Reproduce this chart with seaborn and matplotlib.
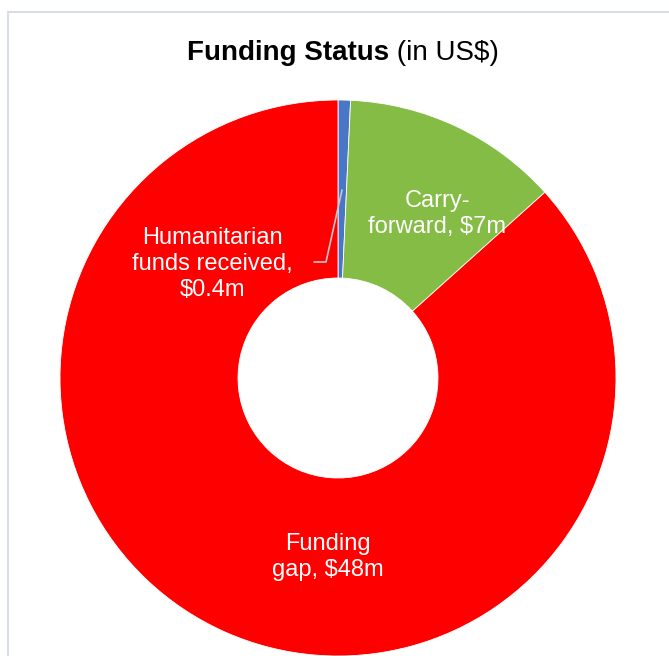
import matplotlib
matplotlib.use("Agg")
import matplotlib.pyplot as plt
import seaborn as sns
from matplotlib.patches import Rectangle

sns.set_theme(style="white")
plt.rcParams['font.family'] = ['Liberation Sans', 'DejaVu Sans']

# Data
categories = ["Humanitarian funds received", "Carry-forward", "Funding gap"]
values = [0.4, 7, 48]
value_labels = ["$0.4m", "$7m", "$48m"]
colors = ["#4A76C8", "#84BC45", "#FF0000"]

W, H = 669, 656
fig = plt.figure(figsize=(W / 100, H / 100), dpi=100)
fig.patch.set_facecolor("white")
ax = fig.add_axes([0, 0, 1, 1])

def py(y):
    return H - y

# frame border
fig.patches.append(Rectangle((8 / W, -0.05), 1.2, (H - 12) / H + 0.05, transform=fig.transFigure,
                             fill=False, edgecolor="#D9DEE4", lw=1.5, zorder=0))

cx, cy, r = 338, 378, 278
ax.pie(values, colors=colors, startangle=90, counterclock=False,
       center=(cx, py(cy)), radius=r, frame=True,
       wedgeprops=dict(width=r - 100, edgecolor="white", linewidth=0.6))
ax.set_xlim(0, W)
ax.set_ylim(0, H)
ax.set_aspect("equal")
ax.axis("off")

# title
title_bold = "Funding Status"
title_rest = " (in US$)"
tb = ax.text(0, 0, title_bold, fontsize=20, fontweight="bold", va="baseline", color="black")
tr = ax.text(0, 0, title_rest, fontsize=20, va="baseline", color="black")
fig.canvas.draw()
rend = fig.canvas.get_renderer()
wb = tb.get_window_extent(rend).width
wr = tr.get_window_extent(rend).width
x0 = 343 - (wb + wr) / 2
tb.set_position((x0, py(60)))
tr.set_position((x0 + wb, py(60)))

# labels
lab_kw = dict(color="white", fontsize=17, ha="center", va="center", linespacing=1.22)
ax.text(212, py(264), "Humanitarian\nfunds received,\n" + value_labels[0], **lab_kw)
ax.text(437, py(214), "Carry-\nforward, " + value_labels[1], **lab_kw)
ax.text(328, py(557), "Funding\ngap, " + value_labels[2], **lab_kw)

# leader line
ax.plot([314, 326, 342], [py(262), py(262), py(190)], color="#C8C8C8", lw=1.2)

fig.savefig("out.png", dpi=100, facecolor="white")
